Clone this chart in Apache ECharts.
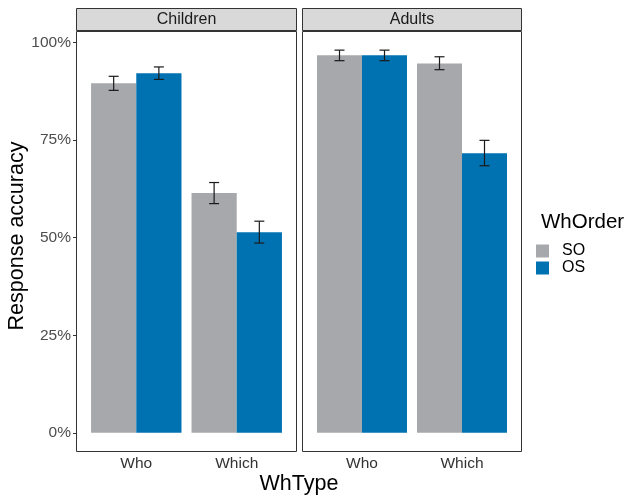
<!DOCTYPE html>
<html><head><meta charset="utf-8">
<script src="https://cdn.jsdelivr.net/npm/echarts@6/dist/echarts.min.js"></script>
<style>html,body{margin:0;padding:0;background:#fff}#c{width:631px;height:497px}</style>
</head><body><div id="c"></div>
<script>
const panels = ['Children', 'Adults'];
const whTypes = ['Who', 'Which'];
const orders = ['SO', 'OS'];
const yTicks = [0, 0.25, 0.5, 0.75, 1];
// [panelIndex][whTypeIndex]
const soMean = [[0.895, 0.614], [0.967, 0.946]];
const soLo   = [[0.877, 0.587], [0.953, 0.930]];
const soHi   = [[0.913, 0.641], [0.980, 0.963]];
const osMean = [[0.921, 0.514], [0.967, 0.716]];
const osLo   = [[0.905, 0.486], [0.953, 0.684]];
const osHi   = [[0.937, 0.542], [0.980, 0.749]];

const colors = {SO: '#a7a8ab', OS: '#0072b2'};
const font = 'Liberation Sans, Arial, sans-serif';
const chart = echarts.init(document.getElementById('c'), null, {renderer: 'canvas'});

const grids = [
  {left: 76, top: 31, width: 221, height: 421},
  {left: 302, top: 31, width: 220, height: 421}
];
const xAxes = grids.map((g, i) => ({
  type: 'value', gridIndex: i, min: 0.4, max: 2.6,
  splitLine: {show: false},
  axisLine: {show: false},
  axisTick: {show: false},
  axisLabel: {
    customValues: [1, 2],
    formatter: v => whTypes[Math.round(v) - 1],
    color: '#333', fontSize: 15.5, fontFamily: font, margin: 4
  }
}));
const yAxes = grids.map((g, i) => ({
  type: 'value', gridIndex: i, min: -0.049, max: 1.029,
  splitLine: {show: false},
  axisLine: {show: false},
  axisTick: {show: i === 0, customValues: yTicks, length: 3, lineStyle: {color: '#333'}},
  axisLabel: {
    show: i === 0, customValues: yTicks,
    formatter: v => Math.round(v * 100) + '%',
    color: '#4d4d4d', fontSize: 15.5, fontFamily: font, margin: 5
  }
}));

function barSeries(name, means, offset) {
  return panels.map((p, pi) => ({
    type: 'custom', name, xAxisIndex: pi, yAxisIndex: pi,
    itemStyle: {color: colors[name]},
    data: whTypes.map((w, wi) => [wi + 1, means[pi][wi]]),
    renderItem: (params, api) => {
      const x = api.value(0) + offset;
      const y = api.value(1);
      const p0 = api.coord([x, 0]);
      const p1 = api.coord([x + 0.45, y]);
      return {type: 'rect', shape: {x: p0[0], y: p1[1], width: p1[0] - p0[0], height: p0[1] - p1[1]},
        style: {fill: colors[name]}};
    }
  }));
}
function errSeries(name, lo, hi, offset) {
  return panels.map((p, pi) => ({
    type: 'custom', name: name + '_err', xAxisIndex: pi, yAxisIndex: pi, z: 5,
    data: whTypes.map((w, wi) => [wi + 1, lo[pi][wi], hi[pi][wi]]),
    renderItem: (params, api) => {
      const x = api.value(0) + offset;
      const a = api.coord([x, api.value(1)]);
      const b = api.coord([x, api.value(2)]);
      const hw = 5;
      const st = {stroke: '#1a1a1a', lineWidth: 1.2};
      return {type: 'group', children: [
        {type: 'line', shape: {x1: a[0], y1: a[1], x2: b[0], y2: b[1]}, style: st},
        {type: 'line', shape: {x1: a[0] - hw, y1: a[1], x2: a[0] + hw, y2: a[1]}, style: st},
        {type: 'line', shape: {x1: b[0] - hw, y1: b[1], x2: b[0] + hw, y2: b[1]}, style: st}
      ]};
    }
  }));
}

const series = [
  ...barSeries('SO', soMean, -0.45),
  ...barSeries('OS', osMean, 0),
  ...errSeries('SO', soLo, soHi, -0.225),
  ...errSeries('OS', osLo, osHi, 0.225)
];

const graphics = [];
grids.forEach((g, i) => {
  graphics.push({type: 'rect', z: 100, shape: {x: g.left + 0.5, y: g.top + 0.5, width: g.width - 1, height: g.height - 1},
    style: {fill: 'none', stroke: '#333', lineWidth: 1}});
  graphics.push({type: 'rect', z: 100, shape: {x: g.left + 0.5, y: 8.5, width: g.width - 1, height: 22},
    style: {fill: '#d9d9d9', stroke: '#333', lineWidth: 1}});
  graphics.push({type: 'text', z: 101, x: g.left + g.width / 2, y: 20,
    style: {text: panels[i], font: '16px ' + font, fill: '#1a1a1a', align: 'center', verticalAlign: 'middle'}});
});
graphics.push({type: 'text', x: 299, y: 484, style: {text: 'WhType', font: '21.5px ' + font, fill: '#000', align: 'center', verticalAlign: 'middle'}});
graphics.push({type: 'text', x: 17, y: 236, rotation: Math.PI / 2,
  style: {text: 'Response accuracy', font: '21.5px ' + font, fill: '#000', align: 'center', verticalAlign: 'middle'}});
graphics.push({type: 'text', x: 541, y: 222, style: {text: 'WhOrder', font: '20.5px ' + font, fill: '#000', align: 'left', verticalAlign: 'middle'}});

chart.setOption({
  animation: false,
  grid: grids,
  xAxis: xAxes,
  yAxis: yAxes,
  series,
  legend: {
    data: orders, orient: 'vertical', left: 536, top: 243, padding: 0,
    icon: 'rect', itemWidth: 13, itemHeight: 13, itemGap: 1,
    textStyle: {fontSize: 16, lineHeight: 13, fontFamily: font, color: '#000', padding: [0, 0, 0, 8]},
    selectedMode: false
  },
  graphic: graphics
});
</script></body></html>
